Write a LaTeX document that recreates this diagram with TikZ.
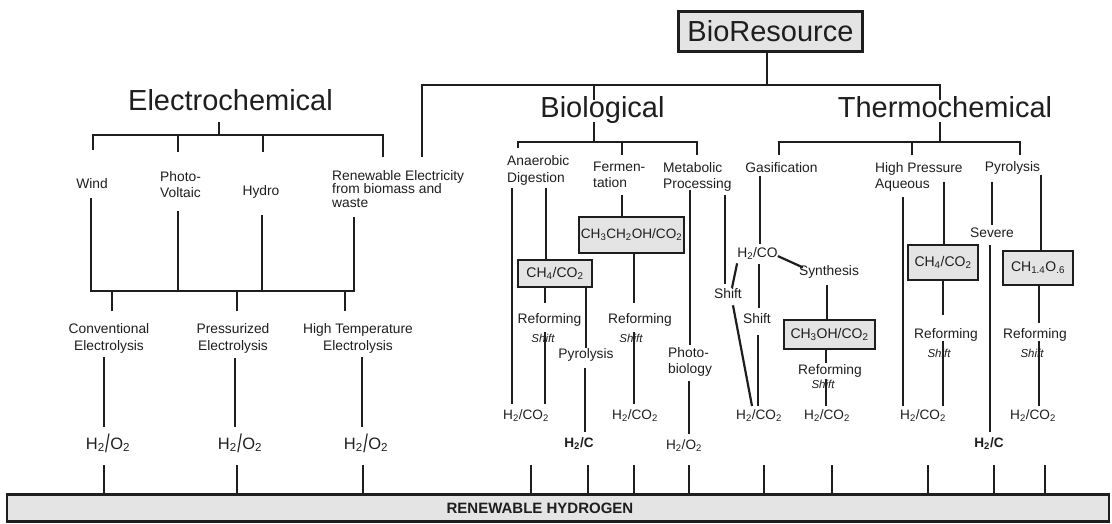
\documentclass[tikz,border=0pt]{standalone}
\usepackage{fontspec}
\usepackage{graphicx}
\setmainfont{Liberation Sans}
\usetikzlibrary{calc}
\definecolor{ink}{HTML}{1E1E1E}
\definecolor{panel}{HTML}{E4E4E4}
\newcommand\sub[1]{\textsubscript{#1}}
\newcommand\hho{H\sub{2}\hspace{0.5pt}\raisebox{-0.22em}{\scalebox{1}[1.55]{/}}\hspace{0.5pt}O\sub{2}}
\begin{document}
\begin{tikzpicture}[x=1pt,y=-1pt,
  ln/.style={draw=ink,line width=2.2pt},
  head/.style={font=\fontsize{29}{31}\selectfont,text=ink,inner sep=0pt,anchor=base},
  lbl/.style={font=\fontsize{13.8}{16}\selectfont,text=ink,inner sep=0pt},
  shft/.style={font=\fontsize{11.5}{12}\selectfont\itshape,text=ink,inner sep=0pt,anchor=base},
  gas/.style={font=\fontsize{13.6}{16}\selectfont,text=ink,inner sep=0pt,anchor=base},
  hho/.style={font=\fontsize{16.5}{18}\selectfont,text=ink,inner sep=0pt,anchor=base},
  gbox/.style={draw=ink,line width=2.8pt,fill=panel,inner sep=0pt,text=ink,font=\fontsize{14}{16}\selectfont},
]
\useasboundingbox (0,0) rectangle (1112,523);

% ---------- headings ----------
\node[gbox,font=\fontsize{29}{31}\selectfont,minimum width=184pt,minimum height=40pt] (bio) at (770.5,31.5) {BioResource};
\node[head] (echem) at (230.5,110) {Electrochemical};
\node[head] (biol) at (602.5,117) {Biological};
\node[head] (thermo) at (945,117) {Thermochemical};

% ---------- electrochemical labels ----------
\node[lbl,anchor=base] (wind) at (92,188) {Wind};
\node[lbl,anchor=north west,align=left] (pv) at (160,171) {Photo-\\Voltaic};
\node[lbl,anchor=base] (hydro) at (261,195) {Hydro};
\node[lbl,anchor=north west,align=left,font=\fontsize{13.8}{13.5}\selectfont] (rebio) at (332,170) {Renewable Electricity\\from biomass and\\waste};
\node[lbl,anchor=north,align=center,font=\fontsize{13.8}{17}\selectfont] (conv) at (109,323) {Conventional\\Electrolysis};
\node[lbl,anchor=north,align=center,font=\fontsize{13.8}{17}\selectfont] (pres) at (233,323) {Pressurized\\Electrolysis};
\node[lbl,anchor=north,align=center,font=\fontsize{13.8}{17}\selectfont] (htel) at (358,323) {High Temperature\\Electrolysis};
\node[hho] (h1) at (108,449) {\hho};
\node[hho] (h2) at (240,449) {\hho};
\node[hho] (h3) at (366,449) {\hho};

% ---------- biological labels ----------
\node[lbl,anchor=north west,align=left,font=\fontsize{13.8}{17}\selectfont] (anaer) at (507,155) {Anaerobic\\Digestion};
\node[lbl,anchor=north west,align=left] (ferm) at (593,162) {Fermen-\\tation};
\node[lbl,anchor=north west,align=left] (metab) at (663,162) {Metabolic\\Processing};
\node[gbox,minimum width=74pt,minimum height=27pt] (boxA) at (555,273.5) {CH\sub{4}/CO\sub{2}};
\node[gbox,font=\fontsize{13.6}{16}\selectfont,minimum width=105pt,minimum height=36pt] (boxE) at (631.5,235) {CH\sub{3}CH\sub{2}OH/CO\sub{2}};
\node[lbl,anchor=base] (refA) at (549.5,323) {Reforming};
\node[shft] (shA) at (543,342) {Shift};
\node[gas] (h2a) at (526,419) {H\sub{2}/CO\sub{2}};
\node[lbl,anchor=base] (pyA) at (586,358) {Pyrolysis};
\node[gas,font=\bfseries\fontsize{13.6}{16}\selectfont] (hcA) at (579,447) {H\sub{2}/C};
\node[lbl,anchor=base] (refE) at (640,323) {Reforming};
\node[shft] (shE) at (631,342) {Shift};
\node[gas] (h2e) at (635,419) {H\sub{2}/CO\sub{2}};
\node[lbl,anchor=north west,align=left] (phb) at (668,347) {Photo-\\biology};
\node[gas] (hob) at (684,449) {H\sub{2}/O\sub{2}};
\node[lbl,anchor=base] (shG) at (728,298) {Shift};

% ---------- thermochemical labels ----------
\node[lbl,anchor=base] (gasif) at (781.5,172) {Gasification};
\node[lbl,anchor=base] (h2co) at (757.5,257) {H\sub{2}/CO};
\node[lbl,anchor=base] (syn) at (829,275) {Synthesis};
\node[lbl,anchor=base] (shG2) at (757,323) {Shift};
\node[gas] (h2g) at (759,419) {H\sub{2}/CO\sub{2}};
\node[gbox,minimum width=91pt,minimum height=29pt] (boxM) at (829.5,334.5) {CH\sub{3}OH/CO\sub{2}};
\node[lbl,anchor=base] (refM) at (830,374) {Reforming};
\node[shft] (shM) at (823,388) {Shift};
\node[gas] (h2m) at (827,419) {H\sub{2}/CO\sub{2}};
\node[lbl,anchor=north west,align=left] (hpa) at (875,162) {High Pressure\\Aqueous};
\node[gbox,minimum width=70pt,minimum height=35pt] (boxH) at (943,262.5) {CH\sub{4}/CO\sub{2}};
\node[lbl,anchor=base] (refH) at (946,338) {Reforming};
\node[shft] (shH) at (939,357) {Shift};
\node[gas] (h2h) at (923,419) {H\sub{2}/CO\sub{2}};
\node[lbl,anchor=base] (pyT) at (1012.5,171) {Pyrolysis};
\node[lbl,anchor=base] (sev) at (992,237) {Severe};
\node[gbox,minimum width=70pt,minimum height=34pt] (boxP) at (1038,268) {CH\sub{1.4}O\sub{.6}};
\node[lbl,anchor=base] (refP) at (1035,338) {Reforming};
\node[shft] (shP) at (1032,357) {Shift};
\node[gas] (h2p) at (1033,419) {H\sub{2}/CO\sub{2}};
\node[gas,font=\bfseries\fontsize{13.6}{16}\selectfont] (hcT) at (989,447) {H\sub{2}/C};

% ---------- product bar ----------
\node[draw=ink,line width=2.2pt,fill=panel,minimum width=1102pt,minimum height=27pt,inner sep=0pt] (bar) at (558,508) {};
\node[font=\bfseries\fontsize{15}{16}\selectfont,text=ink,anchor=base,inner sep=0pt] (barlbl) at (540,513.5) {RENEWABLE HYDROGEN};

% ---------- BioResource tree ----------
\coordinate (bioBar) at (767,85);
\draw[ln] (bio.south -| bioBar) -- (bioBar);
\coordinate (bb1) at (422,157);
\coordinate (bb2) at (594,100);
\coordinate (bb3) at (940,100);
\foreach \c in {bb1,bb2,bb3} \draw[ln] (\c) |- (bioBar);

% ---------- electrochemical tree ----------
\coordinate (ecBar) at (219,135);
\draw[ln] (ecBar) -- ++(0,-13);
\coordinate (ec1) at (93,150);
\coordinate (ec2) at (178,152);
\coordinate (ec3) at (263,152);
\coordinate (ec4) at (383,157);
\foreach \c in {ec1,ec2,ec3,ec4} \draw[ln] (\c) |- (ecBar);

\coordinate (elBar) at (222,291);
\coordinate (es1) at (91,198);
\coordinate (es2) at (178,211);
\coordinate (es3) at (262,215);
\coordinate (es4) at (354,217);
\foreach \c in {es1,es2,es3,es4} \draw[ln] (\c) |- (elBar);
\coordinate (ed1) at (112,311);
\coordinate (ed2) at (237,311);
\coordinate (ed3) at (345,311);
\foreach \c in {ed1,ed2,ed3} \draw[ln] (\c) -- (\c |- elBar);

\coordinate (ev1) at (104,357);
\coordinate (ev2) at (235,358);
\coordinate (ev3) at (362,357);
\draw[ln,shorten >=7pt] (ev1) -- (ev1 |- h1.north);
\draw[ln,shorten >=7pt] (ev2) -- (ev2 |- h2.north);
\draw[ln,shorten >=7pt] (ev3) -- (ev3 |- h3.north);

% ---------- biological tree ----------
\coordinate (blBar) at (594,142);
\draw[ln] (blBar) -- ++(0,-20);
\coordinate (bs1) at (518,148);
\coordinate (bs2) at (622,155);
\coordinate (bs3) at (697,155);
\foreach \c in {bs1,bs2,bs3} \draw[ln] (\c) |- (blBar);

\coordinate (an1) at (512,188);
\draw[ln,shorten >=5pt] (an1) -- (an1 |- h2a.north);
\coordinate (an2) at (546,188);
\draw[ln] (an2) -- (an2 |- boxA.north);
\coordinate (an3) at (545,0);
\draw[ln,shorten >=10pt] (an3 |- boxA.south) -- (an3 |- refA.north);
\draw[ln,shorten <=6pt,shorten >=5pt] (an3 |- refA.south) -- (an3 |- h2a.north);
\coordinate (an4) at (586,0);
\draw[ln] (an4 |- boxA.south) -- (an4 |- pyA.north);
\coordinate (py1) at (585,0);
\draw[ln,shorten <=7pt,shorten >=5pt] (py1 |- pyA.south) -- (py1 |- hcA.north);

\coordinate (fe1) at (622,195);
\draw[ln] (fe1) -- (fe1 |- boxE.north);
\coordinate (fe2) at (634,0);
\draw[ln,shorten >=10pt] (fe2 |- boxE.south) -- (fe2 |- refE.north);
\draw[ln,shorten <=6pt,shorten >=5pt] (fe2 |- refE.south) -- (fe2 |- h2e.north);

\coordinate (me1) at (690,190);
\draw[ln,shorten >=2pt] (me1) -- (me1 |- phb.north);
\coordinate (me2) at (689,0);
\draw[ln,shorten <=5pt,shorten >=5pt] (me2 |- phb.south) -- (me2 |- hob.north);
\coordinate (me3) at (725,195);
\draw[ln,shorten >=4pt] (me3) -- (me3 |- shG.north);
\draw[ln] ($(shG.north)+(4,0)$) -- ($(h2co.south west)+(0,4)$);
\draw[ln] ($(shG.south)+(5,7)$) -- ($(h2g.north)+(-7,-3)$);

% ---------- thermochemical tree ----------
\coordinate (thBar) at (940,142);
\draw[ln] (thBar) -- ++(0,-20);
\coordinate (ts1) at (779,155);
\coordinate (ts2) at (912,155);
\coordinate (ts3) at (1020,155);
\foreach \c in {ts1,ts2,ts3} \draw[ln] (\c) |- (thBar);

\coordinate (ga1) at (760,176);
\draw[ln,shorten >=3pt] (ga1) -- (ga1 |- h2co.north);
\draw[ln] ($(h2co.east)+(0,3)$) -- ($(syn.west)+(4,-4)$);
\coordinate (ga2) at (759,0);
\draw[ln,shorten <=5pt,shorten >=5pt] (ga2 |- h2co.south) -- (ga2 |- shG2.north);
\coordinate (ga3) at (758,0);
\draw[ln,shorten <=12pt,shorten >=3pt] (ga3 |- shG2.south) -- (ga3 |- h2g.north);
\coordinate (sy1) at (827,0);
\draw[ln,shorten <=7pt] (sy1 |- syn.south) -- (sy1 |- boxM.north);
\coordinate (sy2) at (826,0);
\draw[ln,shorten >=1pt] (sy2 |- boxM.south) -- (sy2 |- refM.north);
\draw[ln,shorten <=2pt,shorten >=3pt] (sy2 |- refM.south) -- (sy2 |- h2m.north);

\coordinate (hp1) at (903,197);
\draw[ln,shorten >=3pt] (hp1) -- (hp1 |- h2h.north);
\coordinate (hp2) at (944,182);
\draw[ln] (hp2) -- (hp2 |- boxH.north);
\coordinate (hp3) at (943,0);
\draw[ln,shorten >=13pt] (hp3 |- boxH.south) -- (hp3 |- refH.north);
\draw[ln,shorten >=3pt] (hp3 |- refH.south) -- (hp3 |- h2h.north);

\coordinate (tp1) at (992,182);
\draw[ln,shorten >=2pt] (tp1) -- (tp1 |- sev.north);
\coordinate (tp2) at (990,0);
\draw[ln,shorten <=8pt,shorten >=5pt] (tp2 |- sev.south) -- (tp2 |- hcT.north);
\coordinate (tp3) at (1041,175);
\draw[ln] (tp3) -- (tp3 |- boxP.north);
\coordinate (tp4) at (1039,0);
\draw[ln,shorten >=5pt] (tp4 |- boxP.south) -- (tp4 |- refP.north);
\draw[ln,shorten >=3pt] (tp4 |- refP.south) -- (tp4 |- h2p.north);

% ---------- feeds into the product bar ----------
\foreach \x [count=\i] in {104,237,363,531,588,634,689,764,832,928,994,1045} {
  \coordinate (tk\i) at (\x,465);
  \draw[ln] (tk\i) -- (tk\i |- bar.north);
}
\end{tikzpicture}
\end{document}
